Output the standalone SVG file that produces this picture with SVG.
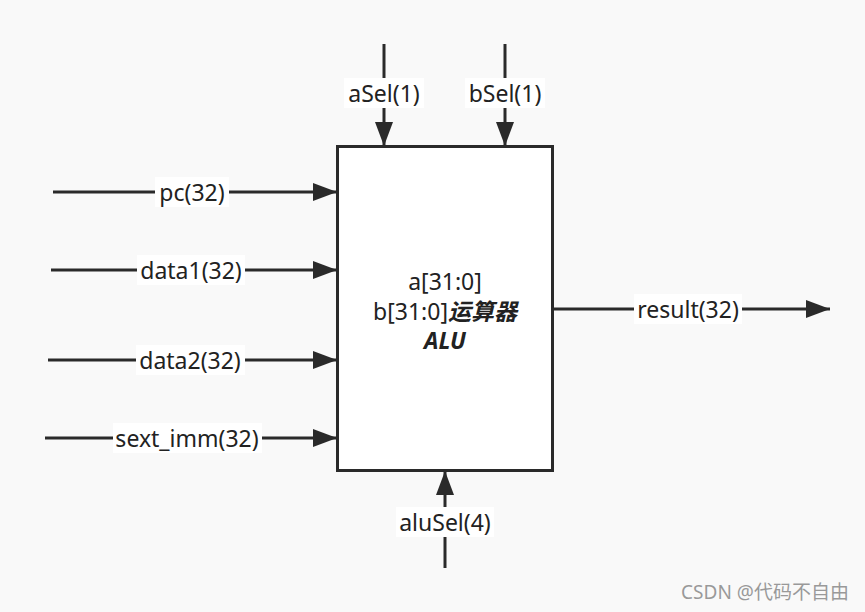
<svg xmlns="http://www.w3.org/2000/svg" width="865" height="612" viewBox="0 0 865 612">
<defs>
<marker id="arr" markerWidth="26" markerHeight="20" refX="24" refY="9" orient="auto" markerUnits="userSpaceOnUse">
<path d="M0,0 L24,9 L0,18 Z" fill="#2a2a2a"/>
</marker>
<style>
.w{stroke:#2a2a2a;stroke-width:3;fill:none}
.t{font-family:"Noto Sans","Noto Sans CJK SC",sans-serif;font-size:23px;fill:#222;text-anchor:middle;dominant-baseline:central}
.bg{fill:#ffffff}
</style>
</defs>
<rect width="865" height="612" fill="#f9f9f9"/>
<g id="connectors">
<line class="w" x1="384" y1="44" x2="384" y2="146" marker-end="url(#arr)"/>
<line class="w" x1="505" y1="44" x2="505" y2="146" marker-end="url(#arr)"/>
<line class="w" x1="53" y1="192" x2="337" y2="192" marker-end="url(#arr)"/>
<line class="w" x1="51" y1="270" x2="337" y2="270" marker-end="url(#arr)"/>
<line class="w" x1="48" y1="360" x2="337" y2="360" marker-end="url(#arr)"/>
<line class="w" x1="45" y1="438" x2="337" y2="438" marker-end="url(#arr)"/>
<line class="w" x1="553" y1="309" x2="830" y2="309" marker-end="url(#arr)"/>
<line class="w" x1="445" y1="568" x2="445" y2="471" marker-end="url(#arr)"/>
<g id="labels">
<rect class="bg" x="344" y="78" width="80" height="30"/>
<text class="t" x="384" y="93">aSel(1)</text>
<rect class="bg" x="465" y="78" width="80" height="30"/>
<text class="t" x="505" y="93">bSel(1)</text>
<rect class="bg" x="155" y="177" width="74" height="30"/>
<text class="t" x="192" y="192">pc(32)</text>
<rect class="bg" x="137" y="255" width="108" height="30"/>
<text class="t" x="191" y="270">data1(32)</text>
<rect class="bg" x="136" y="345" width="109" height="30"/>
<text class="t" x="190" y="360">data2(32)</text>
<rect class="bg" x="113" y="423" width="149" height="30"/>
<text class="t" x="187" y="438">sext_imm(32)</text>
<rect class="bg" x="634" y="294" width="108" height="30"/>
<text class="t" x="688" y="309">result(32)</text>
<rect class="bg" x="396" y="507" width="98" height="30"/>
<text class="t" x="445" y="522">aluSel(4)</text>
</g>
</g>
<g id="alu">
<rect x="337.5" y="146.5" width="215" height="324" fill="#ffffff" stroke="#2a2a2a" stroke-width="3"/>
<text class="t" x="445" y="281">a[31:0]</text>
<text class="t" x="445" y="311">b[31:0]<tspan font-weight="bold" font-style="italic">运算器</tspan></text>
<text class="t" x="445" y="340" font-weight="bold" font-style="italic">ALU</text>
</g>
<text x="765" y="599" font-family="Noto Sans, Noto Sans CJK SC, sans-serif" font-size="19" fill="#999" text-anchor="middle">CSDN @代码不自由</text>
</svg>
